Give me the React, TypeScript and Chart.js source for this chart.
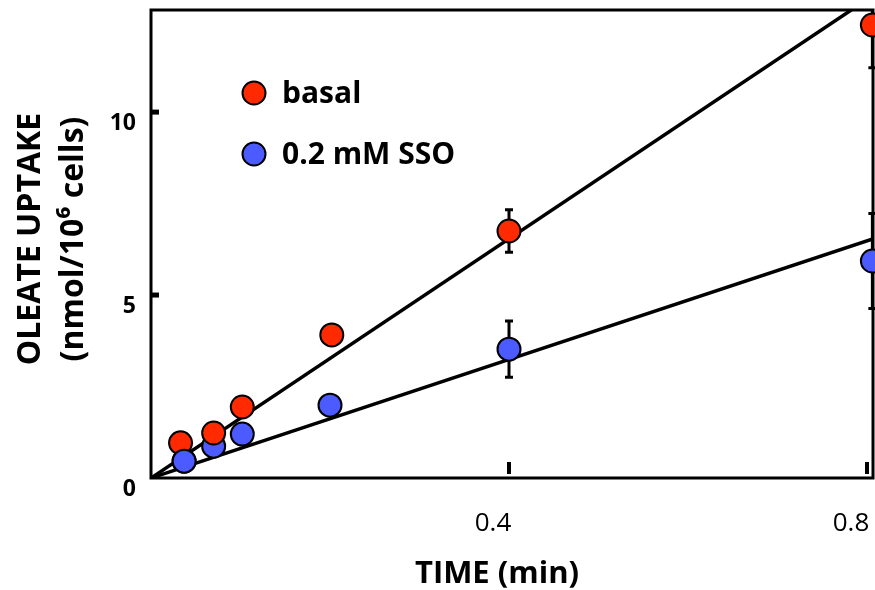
import React, { useEffect, useRef } from 'react';
import { Chart, registerables } from 'chart.js';

Chart.register(...registerables);

// ---- data ----
const timeBasal = [0.033, 0.07, 0.102, 0.202, 0.4, 0.806];
const basal = [0.96, 1.23, 1.94, 3.91, 6.75, 12.38];
const basalErr = [0, 0, 0, 0, 0.58, 1.17];
const timeSSO = [0.037, 0.07, 0.102, 0.2, 0.4, 0.806];
const sso = [0.46, 0.87, 1.2, 1.99, 3.52, 5.93];
const ssoErr = [0, 0, 0, 0, 0.77, 1.3];
const fitX = [0, 0.81];
const basalFit = [0, 13.24];
const ssoFit = [0, 6.56];
const xTickValues = [0.4, 0.8];
const yTickValues = [0, 5, 10];
const legendLabels = ['basal', '0.2 mM SSO'];
const xTitle = 'TIME (min)';
const yTitle = ['OLEATE UPTAKE', '(nmol/10\u2076 cells)'];

const RED = '#ff2a00';
const BLUE = '#4b5bff';
const FONT = "'Open Sans', sans-serif";

const toPts = (xs: number[], ys: number[]) => xs.map((x, i) => ({ x, y: ys[i] }));

const decor = {
  id: 'decor',
  beforeDatasetsDraw(chart: any) {
    const { ctx, chartArea: a } = chart;
    ctx.save();
    ctx.strokeStyle = '#000';
    ctx.lineWidth = 3;
    ctx.strokeRect(a.left, a.top, a.right - a.left, a.bottom - a.top);
    const xs = chart.scales.x;
    const ys = chart.scales.y;
    ctx.fillStyle = '#000';
    // x tick marks (inside, upward)
    xTickValues.forEach((v) => {
      const px = xs.getPixelForValue(v);
      ctx.fillRect(px - 2, a.bottom - 16, 4, 12);
    });
    // y tick marks (inside, rightward)
    yTickValues.forEach((v) => {
      if (v === 0) return;
      const py = ys.getPixelForValue(v);
      ctx.fillRect(a.left, py - 2.5, 8, 5);
    });
    ctx.restore();
  },
  beforeDatasetDraw(chart: any, args: any) {
    const ds: any = chart.data.datasets[args.index];
    if (!ds.errors) return;
    const { ctx, chartArea: a } = chart;
    const xs = chart.scales.x;
    const ys = chart.scales.y;
    ctx.save();
    ctx.beginPath();
    ctx.rect(a.left, a.top, a.right - a.left + 10, a.bottom - a.top);
    ctx.clip();
    ctx.strokeStyle = '#000';
    ctx.lineWidth = 3;
    ds.data.forEach((p: any, i: number) => {
      const e = ds.errors[i];
      if (!e) return;
      const px = xs.getPixelForValue(p.x);
      const hi = ys.getPixelForValue(p.y + e);
      const lo = ys.getPixelForValue(p.y - e);
      ctx.beginPath();
      ctx.moveTo(px, hi);
      ctx.lineTo(px, lo);
      ctx.moveTo(px - 4, hi);
      ctx.lineTo(px + 4, hi);
      ctx.moveTo(px - 4, lo);
      ctx.lineTo(px + 4, lo);
      ctx.stroke();
    });
    ctx.restore();
  },
  afterDraw(chart: any) {
    const { ctx } = chart;
    ctx.save();
    // legend
    const colors = [RED, BLUE];
    const ly = [93, 154];
    legendLabels.forEach((t, i) => {
      ctx.beginPath();
      ctx.arc(254, ly[i], 11.5, 0, Math.PI * 2);
      ctx.fillStyle = colors[i];
      ctx.fill();
      ctx.lineWidth = 2;
      ctx.strokeStyle = '#000';
      ctx.stroke();
      ctx.fillStyle = '#000';
      ctx.font = `bold 30px ${FONT}`;
      ctx.textAlign = 'left';
      ctx.textBaseline = 'alphabetic';
      ctx.fillText(t, 282, ly[i] + 10);
    });
    // x title
    ctx.font = `bold 31px ${FONT}`;
    ctx.textAlign = 'center';
    ctx.textBaseline = 'alphabetic';
    ctx.fillText(xTitle, 497, 583);
    // y title
    ctx.font = `bold 32px ${FONT}`;
    ctx.textBaseline = 'middle';
    const lx = [31, 74];
    yTitle.forEach((t, i) => {
      ctx.save();
      ctx.translate(lx[i], 239);
      ctx.rotate(-Math.PI / 2);
      ctx.fillText(t, 0, 0);
      ctx.restore();
    });
    ctx.restore();
  },
};

export default function App() {
  const ref = useRef<HTMLCanvasElement>(null);
  useEffect(() => {
    if (!ref.current) return;
    const pointStyle = {
      showLine: false,
      pointRadius: 11.5,
      pointHoverRadius: 11.5,
      pointBorderWidth: 2,
      pointBorderColor: '#000',
      clip: false as any,
    };
    const chart = new Chart(ref.current, {
      type: 'scatter',
      data: {
        datasets: [
          {
            label: 'sso-first',
            data: toPts(timeSSO, sso).slice(0, 1),
            backgroundColor: BLUE,
            pointBackgroundColor: BLUE,
            order: 0,
            ...pointStyle,
          } as any,
          {
            label: legendLabels[0],
            data: toPts(timeBasal, basal),
            errors: basalErr,
            backgroundColor: RED,
            pointBackgroundColor: RED,
            order: 1,
            ...pointStyle,
          } as any,
          {
            label: legendLabels[1],
            data: toPts(timeSSO, sso),
            errors: ssoErr,
            backgroundColor: BLUE,
            pointBackgroundColor: BLUE,
            order: 2,
            ...pointStyle,
          } as any,
          {
            label: 'basal fit',
            data: toPts(fitX, basalFit),
            showLine: true,
            borderColor: '#000',
            borderWidth: 3.5,
            pointRadius: 0,
            order: 3,
          } as any,
          {
            label: 'sso fit',
            data: toPts(fitX, ssoFit),
            showLine: true,
            borderColor: '#000',
            borderWidth: 3.5,
            pointRadius: 0,
            order: 4,
          } as any,
        ],
      },
      options: {
        responsive: false,
        maintainAspectRatio: false,
        animation: false,
        events: [],
        layout: { autoPadding: false, padding: { top: 10, right: 2, left: 0, bottom: 0 } },
        plugins: { legend: { display: false }, tooltip: { enabled: false } },
        scales: {
          x: {
            type: 'linear',
            min: 0,
            max: 0.8067,
            grid: { display: false },
            border: { display: false },
            ticks: {
              autoSkip: false,
              maxRotation: 0,
              color: '#000',
              font: { family: FONT, size: 26 },
              padding: 22,
              labelOffset: -16,
              callback: (v: any) => String(v),
            },
            afterBuildTicks: (s: any) => {
              s.ticks = xTickValues.map((value) => ({ value }));
            },
            afterFit: (s: any) => {
              s.height = 112;
              s.paddingLeft = 0;
              s.paddingRight = 0;
            },
          },
          y: {
            type: 'linear',
            min: 0,
            max: 12.79,
            grid: { display: false },
            border: { display: false },
            ticks: {
              autoSkip: false,
              color: '#000',
              font: { family: FONT, size: 23, weight: 'bold' },
              padding: 7,
              labelOffset: 11,
              callback: (v: any) => String(v),
            },
            afterBuildTicks: (s: any) => {
              s.ticks = yTickValues.map((value) => ({ value }));
            },
            afterFit: (s: any) => {
              s.width = 151;
              s.paddingTop = 0;
              s.paddingBottom = 0;
            },
          },
        },
      } as any,
      plugins: [decor],
    });
    return () => chart.destroy();
  }, []);
  return (
    <div style={{ position: 'absolute', left: 0, top: 0, width: 875, height: 590, background: '#fff' }}>
      <canvas ref={ref} width={875} height={590} />
    </div>
  );
}
